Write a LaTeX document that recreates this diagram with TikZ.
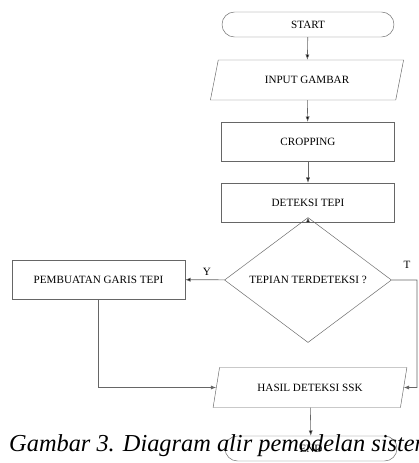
\documentclass[tikz,border=0pt]{standalone}
\usepackage{fontspec}
\setmainfont{Liberation Serif}
\usetikzlibrary{shapes.geometric, shapes.misc, arrows.meta}

\begin{document}
\begin{tikzpicture}[x=0.03cm, y=-0.03cm,
	every node/.style={font=\fontsize{9.5}{11}\selectfont},
	terminal/.style={rounded rectangle, draw=black!60, fill=white, minimum width=5.16cm, minimum height=0.75cm, inner sep=0pt},
	proses/.style={rectangle, draw=black!60, minimum width=5.19cm, minimum height=1.17cm, inner sep=0pt},
	data/.style={trapezium, trapezium left angle=63.4, trapezium right angle=116.6, trapezium stretches=true, draw=black!60, minimum width=5.82cm, minimum height=1.2cm, inner sep=0pt},
	keputusan/.style={diamond, draw=black!60, minimum width=5.01cm, minimum height=2.28cm, inner sep=0pt},
	panah/.style={draw=black!60, line width=0.5pt, -{Latex[length=4.5pt, width=3.5pt]}}]
			\clip (0,0) rectangle (419,463);
			
			\node[terminal] (start) at (308,24.5){START};
			\node[data] (input) at (307,80){INPUT GAMBAR};
			\node[proses] (crop) at (308,141.5){CROPPING};
			\node[proses] (deteksi) at (308,202.5){DETEKSI TEPI};
			\node[keputusan] (cek) at (308,280){TEPIAN TERDETEKSI ?};
			\node[proses] (garis) at (98.5,279.5){PEMBUATAN GARIS TEPI};
			\node[data] (hasil) at (310,387.5){HASIL DETEKSI SSK};
			\node[terminal] (end) at (311,448.5){\raisebox{-4pt}{END}};
			
			\coordinate (kanan) at (417,280);
			\coordinate (kananbawah) at (417,387.5);
			\coordinate (kiribawah) at (98.5,387.5);
			
			\path[panah] (start) edge (input);
			\path[panah] (input) edge (crop);
			\path[panah] (crop) edge (deteksi);
			\path[panah] (deteksi) edge (cek);
			\path[panah] (cek) edge node[above, pos=0.45]{Y} (garis);
			\draw[panah] (cek.east) -- (kanan) -- (kananbawah) -- (hasil.east);
			\draw[panah] (garis) -- (kiribawah) -- (hasil.west);
			\path[panah] (hasil) edge (end);
			
			\node (t) at (407,265){T};
			
			\node[anchor=base west, inner sep=0pt, font=\fontsize{20.8}{23}\selectfont\itshape] (caption) at (9,451){Gambar 3. Diagram alir pemodelan sistem};
			\end{tikzpicture}
\end{document}
